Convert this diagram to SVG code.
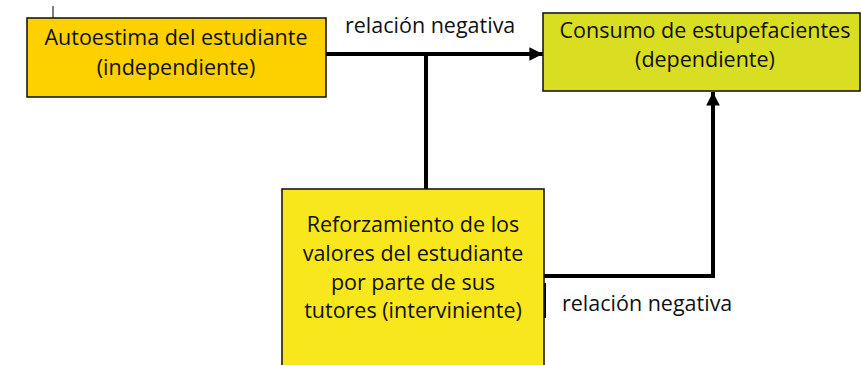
<svg xmlns="http://www.w3.org/2000/svg" width="862" height="365" viewBox="0 0 862 365">
<style>
.box{stroke:#1a1a1a;stroke-width:1.6}
.t{font-family:"Open Sans","Noto Sans",sans-serif;font-size:21.5px;fill:#111;text-anchor:middle}
.lbl{font-family:"Open Sans","Noto Sans",sans-serif;font-size:21.5px;fill:#111}
.conn{stroke:#000;stroke-width:4;fill:none}
</style>
<defs>
<marker id="ah" viewBox="0 0 10 10" refX="10" refY="5" markerWidth="3.4" markerHeight="3.4" orient="auto" markerUnits="strokeWidth">
<path d="M0,0 L10,5 L0,10 z" fill="#000"/>
</marker>
</defs>
<rect width="862" height="365" fill="#fff"/>
<line x1="53" y1="6" x2="53" y2="18" stroke="#555" stroke-width="1.5"/>
<g id="connectors">
<line class="conn" x1="326" y1="54" x2="543" y2="54" marker-end="url(#ah)"/>
<line class="conn" x1="426" y1="54" x2="426" y2="190"/>
<polyline class="conn" points="544,276 713,276 713,92" marker-end="url(#ah)"/>
<line x1="544.5" y1="283" x2="544.5" y2="318" stroke="#000" stroke-width="3"/>
<text class="lbl" x="345" y="33">relación negativa</text>
<text class="lbl" x="562" y="311">relación negativa</text>
</g>
<g id="n1">
<rect class="box" x="27" y="18" width="299" height="79" fill="#FDD000"/>
<text class="t" x="176" y="45">Autoestima del estudiante</text>
<text class="t" x="176" y="75">(independiente)</text>
</g>
<g id="n2">
<rect class="box" x="543" y="13" width="317" height="78" fill="#D9DE22"/>
<text class="t" x="705" y="38">Consumo de estupefacientes</text>
<text class="t" x="705" y="67">(dependiente)</text>
</g>
<g id="n3">
<rect class="box" x="282" y="189" width="262" height="185" fill="#F7E71C"/>
<text class="t" x="413" y="232">Reforzamiento de los</text>
<text class="t" x="413" y="261">valores del estudiante</text>
<text class="t" x="413" y="290">por parte de sus</text>
<text class="t" x="413" y="318">tutores (interviniente)</text>
</g>
</svg>
